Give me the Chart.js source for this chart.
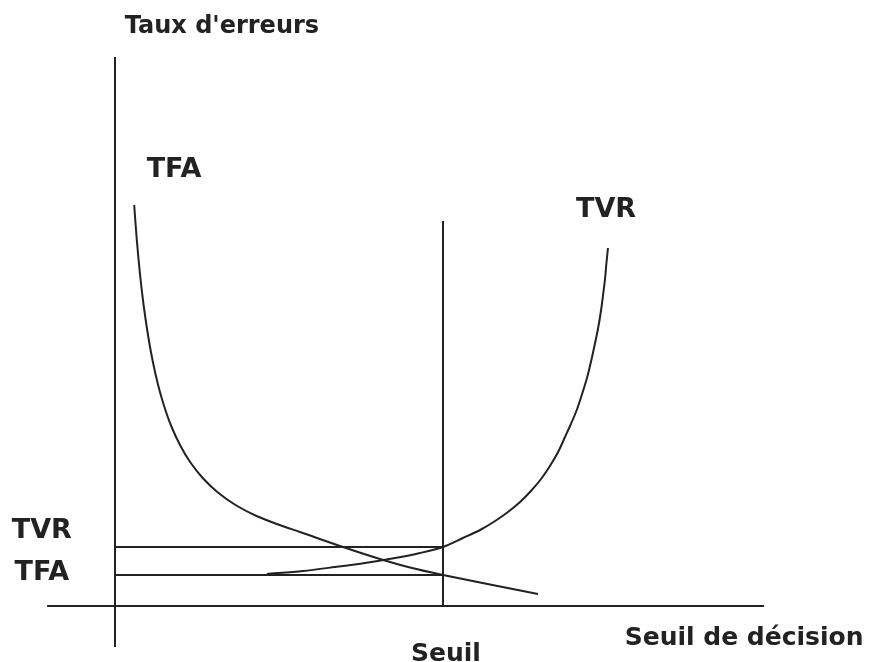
<!DOCTYPE html>
<html>
<head>
<meta charset="utf-8">
<script src="https://cdn.jsdelivr.net/npm/chart.js@4.4.0/dist/chart.umd.min.js"></script>
<style>
    body { margin: 0; background: #fff; }
    #box { width: 869px; height: 662px; }
</style>
</head>
<body>
<div id="box"><canvas id="grafica"></canvas></div>
<script>
// valeurs (x : seuil de décision, y : taux d'erreurs)
const seuil = 100;
const niveauTVR = 14.75;
const niveauTFA = 7.75;

const tfaX = [5.85, 6.65, 7.65, 8.72, 10.06, 11.43, 13.14, 14.88, 17.01, 19.82, 22.9, 26.74, 31.19, 36.74, 43.14, 50.15, 56.4, 69.51, 80.79, 89.94, 100, 114.33, 128.96];
const tfaY = [100.25, 91.5, 82.75, 75.25, 67.75, 61.5, 55.25, 50.25, 45.25, 40.25, 36, 32, 28.5, 25.25, 22.5, 20.25, 18.5, 14.75, 11.75, 9.625, 7.75, 5.375, 3];

const tvrX = [46.3, 57.3, 67.1, 76.2, 85.4, 93.0, 100, 106.1, 111.3, 115.9, 119.8, 123.5, 126.8, 129.9, 132.6, 135.1, 137.2, 139.0, 140.9, 142.4, 143.9, 145.1, 146.3, 147.3, 148.2, 148.8, 149.4, 149.8, 150.3];
const tvrY = [8, 8.75, 9.75, 10.75, 12, 13.25, 14.75, 17, 19, 21.25, 23.5, 26, 28.75, 31.75, 35, 38.5, 42.25, 45.5, 49.25, 53, 57, 61, 65.5, 69.5, 74, 77.75, 81.75, 85.5, 89.5];

const textes = ["Taux d'erreurs", "TFA", "TVR", "TVR", "TFA", "Seuil", "Seuil de décision"];

function puntos(xs, ys){
    return xs.map(function(x, i){ return {x: x, y: ys[i]}; });
}

function linea(datos, ancho, tension){
    return {
        data: datos,
        showLine: true,
        borderColor: '#222',
        borderWidth: ancho,
        pointRadius: 0,
        tension: tension || 0,
        fill: false
    };
}

const etiquetas = {
    id: 'etiquetas',
    afterDraw: function(chart){
        const ctx = chart.ctx;
        const sx = chart.scales.x;
        const sy = chart.scales.y;
        // [texte, x, y, taille]
        const pos = [
            [textes[0], 32.6, 143.25, 24],
            [textes[1], 18.0, 107.25, 27],
            [textes[2], 149.7, 97.25, 27],
            [textes[3], -22.3, 17, 27],
            [textes[4], -22.3, 6.5, 27],
            [textes[5], seuil + 0.9, -13.75, 25],
            [textes[6], 191.8, -9.75, 25]
        ];
        ctx.save();
        ctx.fillStyle = '#222';
        ctx.textAlign = 'center';
        ctx.textBaseline = 'alphabetic';
        pos.forEach(function(p){
            ctx.font = 'bold ' + p[3] + 'px "DejaVu Sans"';
            ctx.fillText(p[0], sx.getPixelForValue(p[1]), sy.getPixelForValue(p[2]));
        });
        ctx.restore();
    }
};

new Chart(document.getElementById('grafica'), {
    type: 'scatter',
    data: {
        datasets: [
            linea([{x: 0, y: -10.25}, {x: 0, y: 137.25}], 2),
            linea([{x: -20.7, y: 0}, {x: 197.9, y: 0}], 2),
            linea([{x: seuil, y: 0}, {x: seuil, y: 96.25}], 2),
            linea([{x: 0, y: niveauTVR}, {x: seuil, y: niveauTVR}], 2),
            linea([{x: 0, y: niveauTFA}, {x: seuil, y: niveauTFA}], 2),
            linea(puntos(tfaX, tfaY), 2, 0.3),
            linea(puntos(tvrX, tvrY), 2, 0.3)
        ]
    },
    options: {
        responsive: true,
        maintainAspectRatio: false,
        animation: false,
        layout: { padding: 0 },
        plugins: {
            legend: { display: false },
            tooltip: { enabled: false }
        },
        scales: {
            x: { type: 'linear', display: false, min: -35.06, max: 229.88 },
            y: { type: 'linear', display: false, min: -14, max: 151.5 }
        }
    },
    plugins: [etiquetas]
});
</script>
</body>
</html>
